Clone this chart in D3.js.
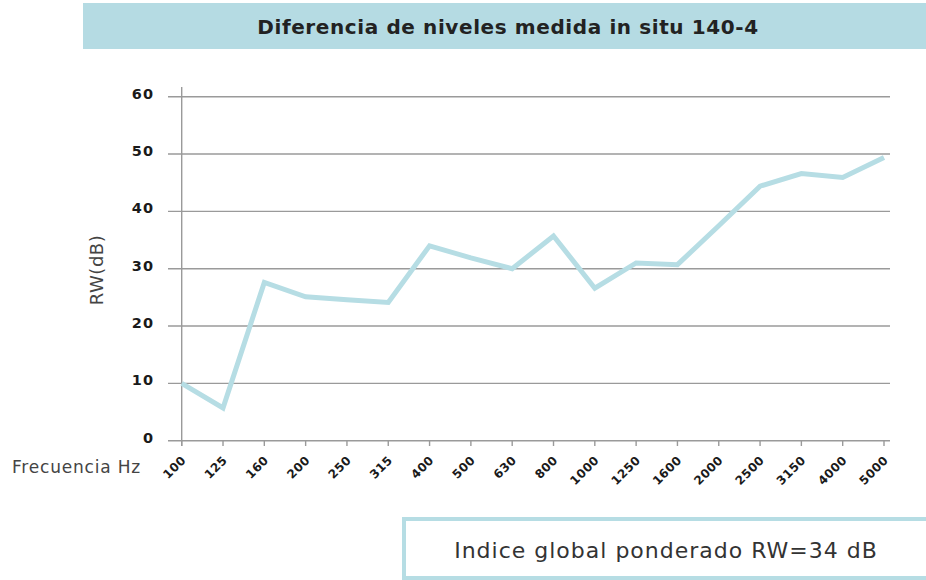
<!DOCTYPE html>
<html>
<head>
<meta charset="utf-8">
<script src="https://cdn.jsdelivr.net/npm/d3@7"></script>
<style>
  body { margin: 0; background: #fff; }
  svg { display: block; font-family: "DejaVu Sans", sans-serif; }
</style>
</head>
<body>
<svg id="chart" width="926" height="580"></svg>
<script>
const frequencies = ["100", "125", "160", "200", "250", "315", "400", "500", "630", "800",
  "1000", "1250", "1600", "2000", "2500", "3150", "4000", "5000"];
const levels = [10, 5.7, 27.6, 25.1, 24.6, 24.1, 34.0, 31.9, 30.0, 35.7,
  26.6, 31.0, 30.7, 37.5, 44.4, 46.6, 45.9, 49.4];
const yTicks = [0, 10, 20, 30, 40, 50, 60];
const title = "Diferencia de niveles medida in situ 140-4";
const summary = "Indice global ponderado RW=34 dB";

const svg = d3.select("#chart");
const lineColor = "#b6dde4";

// title banner
svg.append("rect")
  .attr("x", 83).attr("y", 3).attr("width", 843).attr("height", 46)
  .attr("fill", "#b5dbe3");
svg.append("text")
  .attr("x", 508).attr("y", 34)
  .attr("text-anchor", "middle")
  .attr("font-size", 20).attr("font-weight", 700)
  .attr("letter-spacing", 0.6)
  .attr("fill", "#222")
  .text(title);

const x = d3.scalePoint().domain(frequencies).range([181.7, 884]);
const y = d3.scaleLinear().domain([0, 60]).range([440.7, 96.7]);

// grid lines
svg.append("g")
  .selectAll("line")
  .data(yTicks)
  .join("line")
  .attr("x1", 168).attr("x2", 890)
  .attr("y1", (d) => y(d)).attr("y2", (d) => y(d))
  .attr("stroke", "#9a9a9a")
  .attr("stroke-width", 1.4);

// y axis line
svg.append("line")
  .attr("x1", x("100")).attr("x2", x("100"))
  .attr("y1", 87).attr("y2", 446)
  .attr("stroke", "#9a9a9a").attr("stroke-width", 1.4);

// y tick labels
svg.append("g")
  .selectAll("text")
  .data(yTicks)
  .join("text")
  .attr("x", 154)
  .attr("y", (d) => y(d) + 2)
  .attr("text-anchor", "end")
  .attr("font-size", 14.5).attr("font-weight", 700)
  .attr("letter-spacing", 1)
  .attr("fill", "#1a1a1a")
  .text((d) => d);

// x ticks
svg.append("g")
  .selectAll("line")
  .data(frequencies)
  .join("line")
  .attr("x1", (d) => x(d)).attr("x2", (d) => x(d))
  .attr("y1", 440.7).attr("y2", 446)
  .attr("stroke", "#9a9a9a").attr("stroke-width", 1.4);

svg.append("g")
  .selectAll("text")
  .data(frequencies)
  .join("text")
  .attr("transform", (d) => `translate(${x(d) - 1},${455}) rotate(-45)`)
  .attr("text-anchor", "end")
  .attr("dy", "0.7em")
  .attr("font-size", 12).attr("font-weight", 700)
  .attr("letter-spacing", 0.4)
  .attr("fill", "#1a1a1a")
  .text((d) => d);

// axis titles
svg.append("text")
  .attr("transform", "translate(103,270) rotate(-90)")
  .attr("text-anchor", "middle")
  .attr("font-size", 18)
  .attr("letter-spacing", 0.5)
  .attr("fill", "#444")
  .text("RW(dB)");
svg.append("text")
  .attr("x", 12).attr("y", 473)
  .attr("font-size", 17)
  .attr("letter-spacing", 0.8)
  .attr("fill", "#444")
  .text("Frecuencia Hz");

// data line
const line = d3.line()
  .x((d, i) => x(frequencies[i]))
  .y((d) => y(d));
svg.append("path")
  .datum(levels)
  .attr("d", line)
  .attr("fill", "none")
  .attr("stroke", lineColor)
  .attr("stroke-width", 5);

// summary box
svg.append("rect")
  .attr("x", 404).attr("y", 519).attr("width", 530).attr("height", 59)
  .attr("fill", "#fff")
  .attr("stroke", lineColor).attr("stroke-width", 4);
svg.append("text")
  .attr("x", 666).attr("y", 558)
  .attr("text-anchor", "middle")
  .attr("font-size", 22)
  .attr("letter-spacing", 1)
  .attr("fill", "#333")
  .text(summary);
</script>
</body>
</html>
